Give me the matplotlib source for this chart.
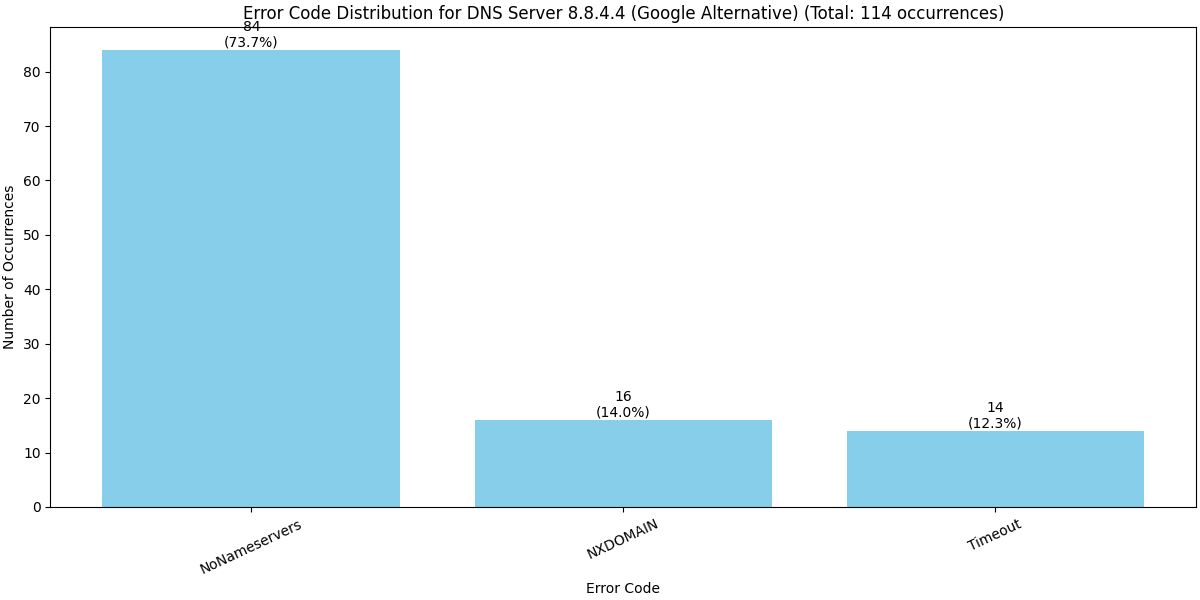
import matplotlib
matplotlib.use("Agg")
import matplotlib.pyplot as plt

categories = ["NoNameservers", "NXDOMAIN", "Timeout"]
counts = [84, 16, 14]
total = sum(counts)

fig, ax = plt.subplots(figsize=(12, 6), dpi=100)
bars = ax.bar(categories, counts, color="skyblue")
for b, c in zip(bars, counts):
    ax.text(b.get_x() + b.get_width() / 2, b.get_height(),
            f"{c}\n({c / total * 100:.1f}%)", ha="center", va="bottom")
ax.set_title(f"Error Code Distribution for DNS Server 8.8.4.4 (Google Alternative) (Total: {total} occurrences)")
ax.set_xlabel("Error Code")
ax.set_ylabel("Number of Occurrences")
plt.xticks(rotation=25)
fig.subplots_adjust(left=0.042, right=0.997, top=0.955, bottom=0.155)
fig.savefig("out.png")
